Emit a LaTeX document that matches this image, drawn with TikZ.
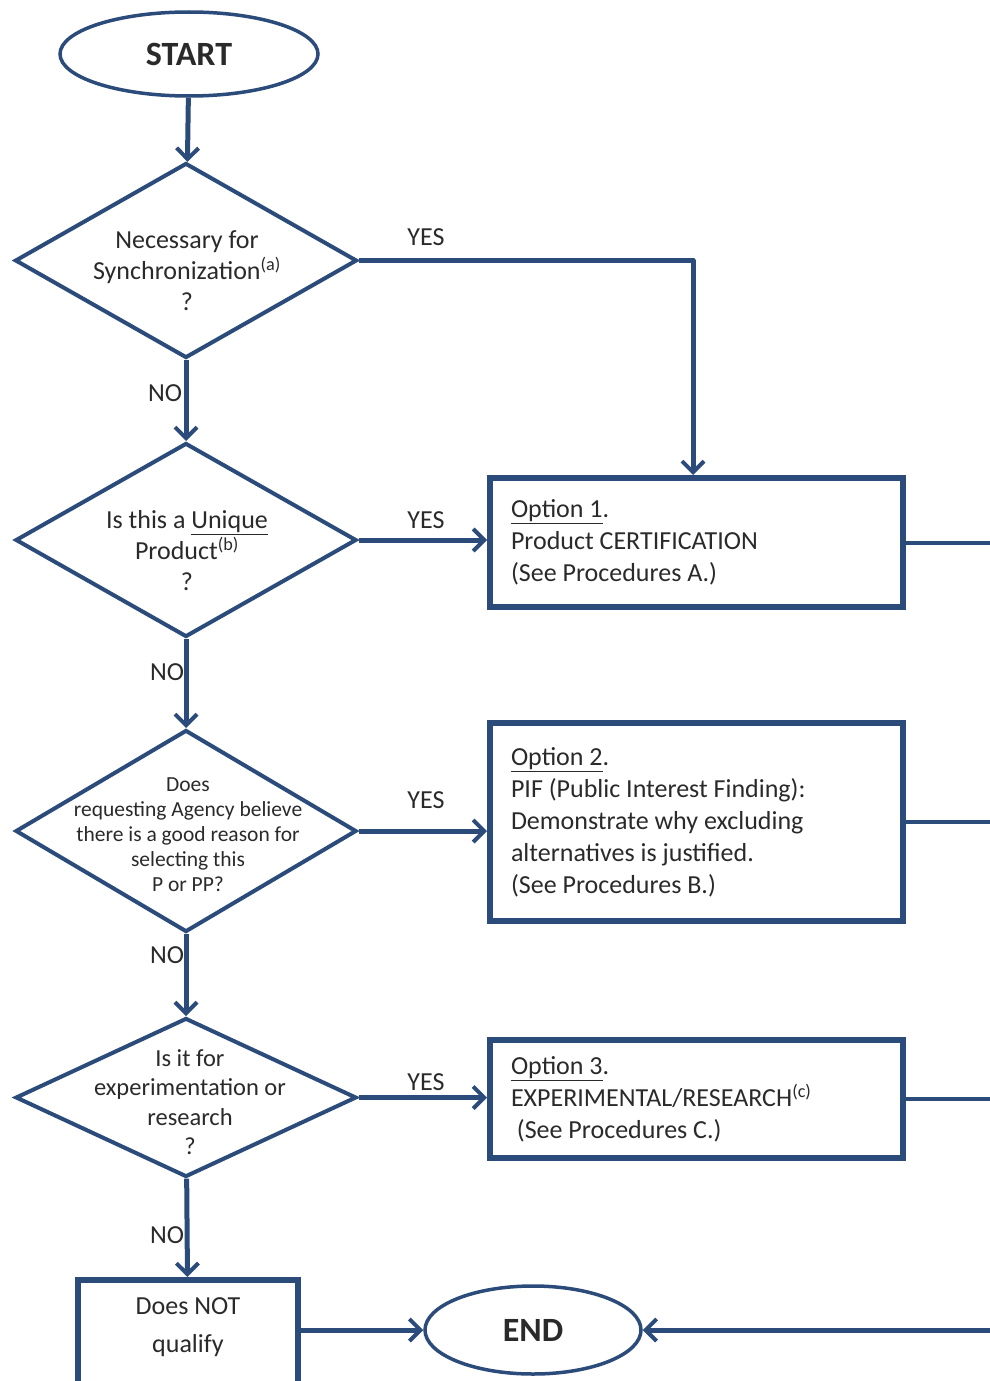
\documentclass[tikz,border=0pt]{standalone}
\usepackage{fontspec}
\setmainfont{Carlito}
\usetikzlibrary{shapes.geometric,arrows.meta}
\definecolor{navy}{HTML}{2B4B7B}
\definecolor{ink}{HTML}{2A2A2A}
\tikzset{
  conn/.style={draw=navy, line width=5pt},
  arr/.style={conn, -{Straight Barb[length=11pt,width=22pt,line width=4pt]}},
  outline/.style={draw=navy, line width=4pt},
  decision/.style={diamond, outline, inner sep=0pt, aspect=1.75},
  optbox/.style={rectangle, draw=navy, line width=6pt, minimum width=413pt, text width=371pt, inner sep=0pt, align=flush left, text=ink, font=\fontsize{26}{32}\selectfont},
  term/.style={ellipse, draw=navy, line width=3.5pt, inner sep=0pt, font=\fontsize{34}{38}\selectfont\bfseries, text=ink},
  qtext/.style={align=center, text=ink, inner sep=0pt},
  lab/.style={text=ink, font=\fontsize{26}{28}\selectfont, inner sep=0pt},
}
\begin{document}
\begin{tikzpicture}[x=1pt,y=-1pt]
\useasboundingbox (0,0) rectangle (989,1381);
% terminals
\node[term, minimum width=258pt, minimum height=84pt] (start) at (189,54) {START};
\node[term, minimum width=216pt, minimum height=88pt] (endn) at (533,1330) {END};
% decisions
\node[decision, minimum width=342pt, minimum height=195pt] (d1) at (186,260.5) {};
\node[qtext, font=\fontsize{26}{31}\selectfont] (d1t) at (187,271) {Necessary for\\Synchronization\textsuperscript{(a)}\\?};
\node[decision, minimum width=341pt, minimum height=194pt] (d2) at (186,540) {};
\node[qtext, font=\fontsize{26}{31}\selectfont] (d2t) at (187,551) {Is this a \underline{Unique}\\Product\textsuperscript{(b)}\\?};
\node[decision, minimum width=341pt, minimum height=202pt] (d3) at (186,831) {};
\node[qtext, font=\fontsize{21.5}{25}\selectfont] (d3t) at (188,835) {Does\\requesting Agency believe\\there is a good reason for\\selecting this\\P or PP?};
\node[decision, minimum width=341pt, minimum height=159pt] (d4) at (186,1097.5) {};
\node[qtext, font=\fontsize{24.5}{29.5}\selectfont] (d4t) at (190,1102) {Is it for\\experimentation or\\research\\?};
% option boxes
\node[optbox, minimum height=129pt] (b1) at (696.5,542.5) {\underline{Option 1}.\\Product CERTIFICATION\\(See Procedures A.)};
\node[optbox, minimum height=198pt] (b2) at (696.5,822) {\underline{Option 2}.\\PIF (Public Interest Finding):\\Demonstrate why excluding\\alternatives is justified.\\(See Procedures B.)};
\node[optbox, minimum height=118pt] (b3) at (696.5,1099) {\underline{Option 3}.\\EXPERIMENTAL/RESEARCH\textsuperscript{(c)}\\\ (See Procedures C.)};
% not qualify
\node[rectangle, draw=navy, line width=6pt, minimum width=220pt, minimum height=120pt] (b4) at (188,1340) {};
\node[qtext, font=\fontsize{26}{38}\selectfont] (b4t) at (188,1327) {Does NOT\\qualify};
% right edge coordinates
\coordinate (r1) at (992,542.5);
\coordinate (r2) at (992,822);
\coordinate (r3) at (992,1099);
\coordinate (r4) at (992,1330);
% connectors
\draw[arr] (start) -- (d1);
\draw[arr] (d1) -- (d2);
\draw[arr] (d2) -- (d3);
\draw[arr] (d3) -- (d4);
\draw[arr] (d4) -- (b4);
\draw[arr, line join=round] (d1.east) -| ([xshift=-3.5pt]b1.north);
\draw[arr] (d2.east) -- (d2.east -| b1.west);
\draw[arr] (d3.east) -- (d3.east -| b2.west);
\draw[arr] (d4.east) -- (d4.east -| b3.west);
\draw[arr] (b4.east |- endn.west) -- (endn.west);
\draw[conn, line width=4pt] (b1.east) -- (r1);
\draw[conn, line width=4pt] (b2.east) -- (r2);
\draw[conn, line width=4pt] (b3.east) -- (r3);
\draw[arr] (r4) -- (endn.east);
% labels
\node[lab] (y1) at (426,237) {YES};
\node[lab] (y2) at (426,520) {YES};
\node[lab] (y3) at (426,800) {YES};
\node[lab] (y4) at (426,1082) {YES};
\node[lab] (n1) at (165,393) {NO};
\node[lab] (n2) at (167,672) {NO};
\node[lab] (n3) at (167,955) {NO};
\node[lab] (n4) at (167,1235) {NO};
\end{tikzpicture}
\end{document}
